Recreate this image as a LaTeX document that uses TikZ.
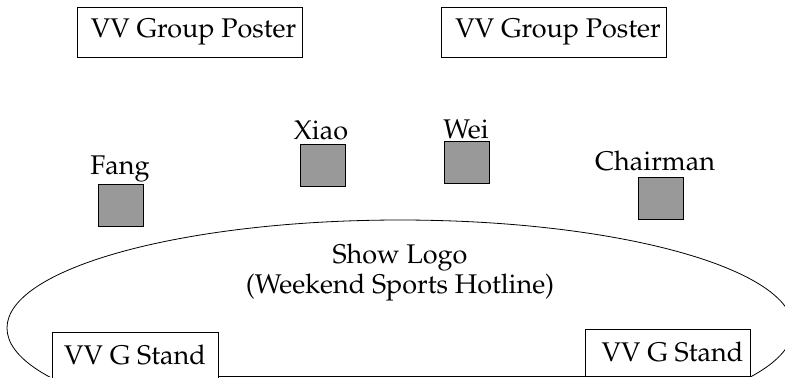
\documentclass[tikz,border=0pt]{standalone}
\usepackage[T1]{fontenc}
\usepackage{mathpazo}
\begin{document}
\begin{tikzpicture}[x=0.5pt,y=-0.5pt,
    font=\fontsize{13.5}{15}\selectfont,
    box/.style={draw, fill=white, inner sep=0pt},
    seat/.style={draw, fill=black!40, minimum width=22.5pt, minimum height=21pt, inner sep=0pt},
    seatlabel/.style={anchor=base, inner sep=0pt}]
    \useasboundingbox (0,0) rectangle (785,377);

    % posters on the back wall
    \node [box, minimum width=112.5pt, minimum height=25pt] (posterl) at (189.5,32) {\hspace{4pt}VV Group Poster};
    \node [box, minimum width=112.5pt, minimum height=25pt] (posterr) at (554,32) {\hspace{4pt}VV Group Poster};

    % seats
    \node [seat] (fang) at (120.5,205) {};
    \node [seat] (xiao) at (322.5,165.5) {};
    \node [seat] (wei) at (466.5,162.5) {};
    \node [seat] (chair) at (660.5,198) {};

    \node [seatlabel] (fanglbl) at (120,174) {Fang};
    \node [seatlabel] (xiaolbl) at (321,139) {Xiao};
    \node [seatlabel] (weilbl) at (466,138) {Wei};
    \node [seatlabel] (chairlbl) at (655,170) {Chairman};

    % show logo on the floor
    \begin{scope}
        \clip (0,0) rectangle (785,376);
        \draw (400,328) ellipse [x radius=393, y radius=108];
    \end{scope}
    \node [align=center, inner sep=0pt] (logo) at (400,273) {Show Logo\\(Weekend Sports Hotline)};

    % stands at the front
    \node [box, minimum width=83pt, minimum height=23pt] (standl) at (135,355) {VV G Stand};
    \node [box, minimum width=82.5pt, minimum height=23.5pt] (standr) at (667.5,352.5) {\hspace{5pt}VV G Stand};
    \draw (standl.east |- standr.south) -- (standr.south west);
\end{tikzpicture}
\end{document}
